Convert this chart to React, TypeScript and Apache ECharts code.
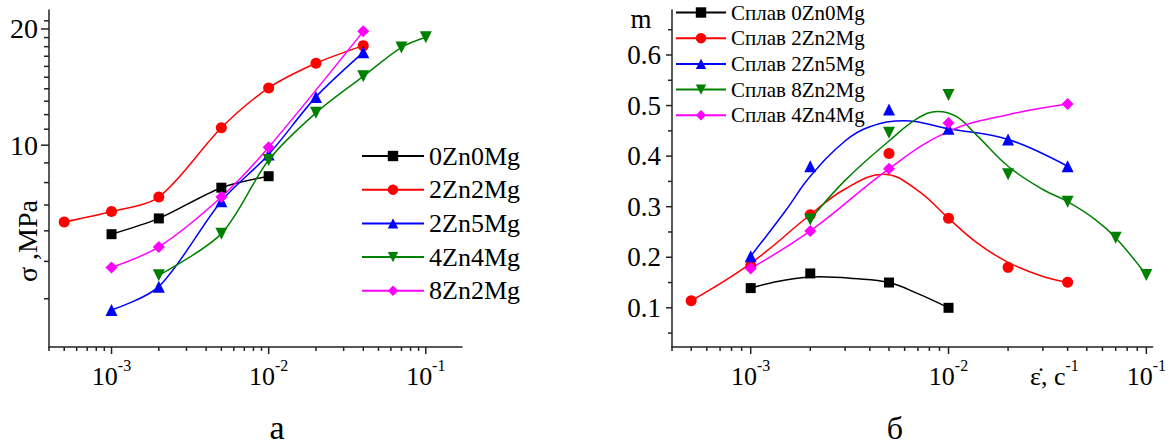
import React, { useEffect, useRef } from "react";
import * as echarts from "echarts";

const FONT = "Liberation Serif";

// ---------- Panel а : flow stress σ (MPa) vs strain rate ----------
const aNames = ["0Zn0Mg", "2Zn2Mg", "2Zn5Mg", "4Zn4Mg", "8Zn2Mg"];
const aRate0Zn0Mg = [0.001, 0.002, 0.005, 0.01];
const aStress0Zn0Mg = [5.88, 6.46, 7.76, 8.31];
const aRate2Zn2Mg = [0.0005, 0.001, 0.002, 0.005, 0.01, 0.02, 0.04];
const aStress2Zn2Mg = [6.32, 6.73, 7.34, 11.1, 14.07, 16.3, 18.11];
const aRate2Zn5Mg = [0.001, 0.002, 0.005, 0.01, 0.02, 0.04];
const aStress2Zn5Mg = [3.74, 4.3, 7.16, 9.46, 13.34, 17.4];
const aRate4Zn4Mg = [0.002, 0.005, 0.01, 0.02, 0.04, 0.07, 0.1];
const aStress4Zn4Mg = [4.6, 5.9, 9.15, 12.13, 15.08, 17.92, 19.03];
const aRate8Zn2Mg = [0.001, 0.002, 0.005, 0.01, 0.04];
const aStress8Zn2Mg = [4.82, 5.45, 7.34, 9.88, 19.72];

const aXMajorTicks = [0.001, 0.01, 0.1];
const aXMinorTicks = [
  0.0004, 0.0005, 0.0006, 0.0007, 0.0008, 0.0009,
  0.002, 0.003, 0.004, 0.005, 0.006, 0.007, 0.008, 0.009,
  0.02, 0.03, 0.04, 0.05, 0.06, 0.07, 0.08, 0.09,
];
const aYLabels = [10, 20];
const aYMinorTicks = [4, 5, 6, 7, 8, 9, 11, 12, 13, 14, 15, 16, 17, 18, 19, 21];

// ---------- Panel б : strain-rate sensitivity m vs strain rate ----------
const bNames = ["Сплав 0Zn0Mg", "Сплав 2Zn2Mg", "Сплав 2Zn5Mg", "Сплав 8Zn2Mg", "Сплав 4Zn4Mg"];
const bRate0Zn0Mg = [0.001, 0.002, 0.005, 0.01];
const bM0Zn0Mg = [0.139, 0.168, 0.15, 0.1];
const bRate2Zn2Mg = [0.0005, 0.001, 0.002, 0.005, 0.01, 0.02, 0.04];
const bM2Zn2Mg = [0.114, 0.183, 0.284, 0.405, 0.277, 0.18, 0.1505];
const bRate2Zn5Mg = [0.001, 0.002, 0.005, 0.01, 0.02, 0.04];
const bM2Zn5Mg = [0.202, 0.38, 0.492, 0.454, 0.433, 0.38];
const bRate8Zn2Mg = [0.002, 0.005, 0.01, 0.02, 0.04, 0.07, 0.1];
const bM8Zn2Mg = [0.2745, 0.446, 0.521, 0.364, 0.31, 0.2385, 0.165];
const bRate4Zn4Mg = [0.001, 0.002, 0.005, 0.01, 0.04];
const bM4Zn4Mg = [0.178, 0.252, 0.375, 0.4655, 0.503];

// fitted curves
const bFitRate0Zn0Mg = [0.001, 0.0015, 0.00224, 0.0033, 0.005, 0.007, 0.01];
const bFitM0Zn0Mg = [0.139, 0.155, 0.1615, 0.158, 0.15, 0.128, 0.1];
const bFitRate2Zn2Mg = [0.0005, 0.001, 0.002, 0.003, 0.0047, 0.007, 0.01, 0.014, 0.02, 0.03, 0.04];
const bFitM2Zn2Mg = [0.114, 0.188, 0.284, 0.335, 0.364, 0.332, 0.277, 0.228, 0.19, 0.162, 0.1505];
const bFitRate2Zn5Mg = [0.001, 0.0015, 0.002, 0.003, 0.004, 0.006, 0.01, 0.02, 0.04];
const bFitM2Zn5Mg = [0.202, 0.292, 0.36, 0.43, 0.458, 0.47, 0.454, 0.433, 0.38];
const bFitRate8Zn2Mg = [0.002, 0.003, 0.005, 0.007, 0.0088, 0.011, 0.014, 0.02, 0.03, 0.04, 0.055, 0.07, 0.1];
const bFitM8Zn2Mg = [0.2745, 0.352, 0.43, 0.475, 0.4885, 0.478, 0.44, 0.38, 0.334, 0.31, 0.275, 0.2385, 0.165];
const bFitRate4Zn4Mg = [0.001, 0.002, 0.005, 0.01, 0.02, 0.04];
const bFitM4Zn4Mg = [0.178, 0.252, 0.375, 0.449, 0.482, 0.503];

const bXMajorTicks = [0.001, 0.01, 0.1];
const bXMinorTicks = aXMinorTicks;
const bYMajorTicks = [0.1, 0.2, 0.3, 0.4, 0.5, 0.6];
const bYMinorTicks = [0.05, 0.15, 0.25, 0.35, 0.45, 0.55, 0.65];

const COLORS = ["#000000", "#ff0000", "#0000ff", "#008000", "#ff00ff"];
const SYMBOLS = ["rect", "circle", "triangle", "triangle", "diamond"];
const ROTATE = [0, 0, 0, 180, 0];
const SIZES = [10, 11, 12, 12, 12];

// layout
const GA = { left: 49, top: 10, width: 413, height: 337 };
const GB = { left: 672, top: 10, width: 481, height: 337 };
const AXIS_COLOR = "#222";

const zip = (xs: number[], ys: number[]) => xs.map((x, i) => [x, ys[i]]);

const supFormatter = (v: number) => "{b|10}{s|" + Math.round(Math.log10(v)) + "}";
const supRich = {
  b: { fontFamily: FONT, fontSize: 26, color: "#000", lineHeight: 32, verticalAlign: "bottom" },
  s: { fontFamily: FONT, fontSize: 16, color: "#000", lineHeight: 14, verticalAlign: "top" },
};

function buildOption() {
  const aX = [aRate0Zn0Mg, aRate2Zn2Mg, aRate2Zn5Mg, aRate4Zn4Mg, aRate8Zn2Mg];
  const aY = [aStress0Zn0Mg, aStress2Zn2Mg, aStress2Zn5Mg, aStress4Zn4Mg, aStress8Zn2Mg];
  const bX = [bRate0Zn0Mg, bRate2Zn2Mg, bRate2Zn5Mg, bRate8Zn2Mg, bRate4Zn4Mg];
  const bY = [bM0Zn0Mg, bM2Zn2Mg, bM2Zn5Mg, bM8Zn2Mg, bM4Zn4Mg];
  const bFX = [bFitRate0Zn0Mg, bFitRate2Zn2Mg, bFitRate2Zn5Mg, bFitRate8Zn2Mg, bFitRate4Zn4Mg];
  const bFY = [bFitM0Zn0Mg, bFitM2Zn2Mg, bFitM2Zn5Mg, bFitM8Zn2Mg, bFitM4Zn4Mg];

  const series: any[] = [];
  aNames.forEach((n, i) => {
    series.push({
      name: n,
      type: "line",
      xAxisIndex: 0,
      yAxisIndex: 0,
      data: zip(aX[i], aY[i]),
      smooth: 0.3,
      symbol: SYMBOLS[i],
      symbolSize: SIZES[i],
      symbolRotate: ROTATE[i],
      lineStyle: { color: COLORS[i], width: 1.5 },
      itemStyle: { color: COLORS[i] },
    });
  });
  bNames.forEach((n, i) => {
    series.push({
      name: n,
      type: "line",
      xAxisIndex: 1,
      yAxisIndex: 1,
      data: zip(bFX[i], bFY[i]),
      smooth: 0.4,
      showSymbol: false,
      symbol: SYMBOLS[i],
      symbolSize: SIZES[i],
      symbolRotate: ROTATE[i],
      lineStyle: { color: COLORS[i], width: 1.5 },
      itemStyle: { color: COLORS[i] },
    });
    series.push({
      name: n + " (exp)",
      type: "scatter",
      xAxisIndex: 1,
      yAxisIndex: 1,
      data: zip(bX[i], bY[i]),
      symbol: SYMBOLS[i],
      symbolSize: SIZES[i],
      symbolRotate: ROTATE[i],
      itemStyle: { color: COLORS[i], opacity: 1 },
      z: 3,
    });
  });

  const axisLine = { show: true, onZero: false, lineStyle: { color: AXIS_COLOR, width: 1.5 } };

  return {
    animation: false,
    backgroundColor: "#ffffff",
    textStyle: { fontFamily: FONT },
    grid: [
      { ...GA, containLabel: false },
      { ...GB, containLabel: false },
    ],
    xAxis: [
      {
        type: "log",
        gridIndex: 0,
        min: 0.0004,
        max: 0.17,
        axisLine,
        axisTick: { show: false },
        splitLine: { show: false },
        axisLabel: { showMinLabel: false, showMaxLabel: false, margin: 10, fontFamily: FONT, formatter: supFormatter, rich: supRich },
      },
      {
        type: "log",
        gridIndex: 1,
        min: 0.0004,
        max: 0.1076,
        axisLine,
        axisTick: { show: false },
        splitLine: { show: false },
        axisLabel: { showMinLabel: false, showMaxLabel: false, margin: 10, fontFamily: FONT, formatter: supFormatter, rich: supRich },
      },
    ],
    yAxis: [
      {
        type: "log",
        gridIndex: 0,
        min: 3,
        max: 22.4,
        axisLine,
        axisTick: { show: false },
        splitLine: { show: false },
        axisLabel: { show: false },
      },
      {
        type: "value",
        gridIndex: 1,
        min: 0.0225,
        max: 0.689,
        axisLine,
        axisTick: { show: false },
        splitLine: { show: false },
        axisLabel: {
          showMinLabel: false,
          showMaxLabel: false,
          margin: 11,
          fontFamily: FONT,
          fontSize: 27,
          color: "#000",
          formatter: (v: number) => v.toFixed(1),
        },
      },
    ],
    legend: [
      {
        data: aNames,
        orient: "vertical",
        left: 361,
        top: 143,
        padding: 0,
        itemWidth: 62,
        itemHeight: 13,
        itemGap: 7.7,
        symbolRotate: "inherit",
        textStyle: { fontFamily: FONT, fontSize: 26, lineHeight: 26, color: "#000" },
        selectedMode: false,
      },
      {
        data: bNames,
        orient: "vertical",
        left: 675,
        top: 2,
        padding: 0,
        itemWidth: 50,
        itemHeight: 13,
        itemGap: 4.7,
        symbolRotate: "inherit",
        textStyle: { fontFamily: FONT, fontSize: 21, lineHeight: 21, color: "#000" },
        selectedMode: false,
      },
    ],
    series,
  };
}

function buildGraphics(chart: any) {
  const els: any[] = [];
  const line = (x1: number, y1: number, x2: number, y2: number) => ({
    type: "line",
    silent: true,
    shape: { x1, y1, x2, y2 },
    style: { stroke: AXIS_COLOR, lineWidth: 1.5 },
    z: 10,
  });
  const xTicks = (idx: number, g: any, vals: number[], len: number) => {
    const y0 = g.top + g.height;
    vals.forEach((v) => {
      const px = chart.convertToPixel({ xAxisIndex: idx }, v);
      els.push(line(px, y0, px, y0 + len));
    });
  };
  const yTicks = (idx: number, g: any, vals: number[], len: number) => {
    vals.forEach((v) => {
      const py = chart.convertToPixel({ yAxisIndex: idx }, v);
      els.push(line(g.left - len, py, g.left, py));
    });
  };
  xTicks(0, GA, aXMajorTicks, 7);
  xTicks(0, GA, aXMinorTicks, 4);
  yTicks(0, GA, aYLabels, 8);
  yTicks(0, GA, aYMinorTicks, 5);
  xTicks(1, GB, bXMajorTicks, 7);
  xTicks(1, GB, bXMinorTicks, 4);
  yTicks(1, GB, bYMajorTicks, 6);
  yTicks(1, GB, bYMinorTicks, 4);

  aYLabels.forEach((v) => {
    const py = chart.convertToPixel({ yAxisIndex: 0 }, v);
    els.push({
      type: "text",
      x: GA.left - 11,
      y: py,
      style: {
        text: String(v),
        fontFamily: FONT,
        fontSize: 28,
        fill: "#000",
        align: "right",
        verticalAlign: "middle",
        textAlign: "right",
        textVerticalAlign: "middle",
      },
    });
  });

  const text = (t: string, x: number, y: number, size: number, extra: any = {}) => ({
    type: "text",
    x,
    y,
    ...extra,
    style: {
      text: t,
      fontFamily: FONT,
      fontSize: size,
      fill: "#000",
      align: "center",
      verticalAlign: "middle",
      textAlign: "center",
      textVerticalAlign: "middle",
    },
  });

  els.push(text("σ ,MPa", 27, 241, 28, { rotation: Math.PI / 2 }));
  els.push(text("m", 641, 19, 27));
  els.push({
    type: "text",
    x: 1030,
    y: 373,
    style: {
      text: "{e|ε̇, c}{s|-1}",
      align: "left",
      verticalAlign: "middle",
      textAlign: "left",
      textVerticalAlign: "middle",
      rich: {
        e: { fontFamily: FONT, fontSize: 26, fill: "#000", color: "#000", lineHeight: 32, verticalAlign: "bottom" },
        s: { fontFamily: FONT, fontSize: 16, fill: "#000", color: "#000", lineHeight: 14, verticalAlign: "top" },
      },
    },
  });
  els.push(text("а", 277, 427, 34));
  els.push(text("б", 895, 428, 32));
  return els;
}

export default function App() {
  const ref = useRef<HTMLDivElement>(null);
  useEffect(() => {
    document.body.style.margin = "0";
    const chart = echarts.init(ref.current!, null, { renderer: "svg" });
    chart.setOption(buildOption() as any);
    chart.setOption({ graphic: { elements: buildGraphics(chart) } } as any);
    return () => chart.dispose();
  }, []);
  return <div ref={ref} style={{ width: 1169, height: 448 }} />;
}
